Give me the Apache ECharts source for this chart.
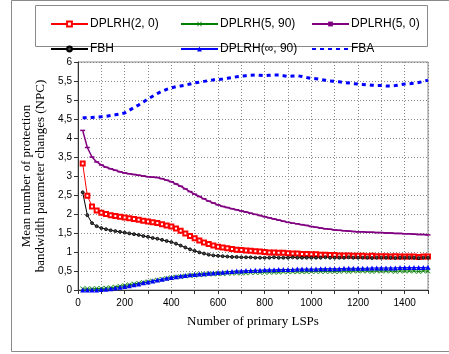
<!DOCTYPE html>
<html>
<head>
<meta charset="utf-8">
<script src="https://cdn.jsdelivr.net/npm/echarts@6/dist/echarts.min.js"></script>
<style>html,body{margin:0;padding:0;background:#fff}#c{width:449px;height:354px}</style>
</head>
<body>
<div id="c"></div>
<script>
const xValues = [20,40,60,80,100,120,140,160,180,200,220,240,260,280,300,320,340,360,380,400,420,440,460,480,500,520,540,560,580,600,620,640,660,680,700,720,740,760,780,800,820,840,860,880,900,920,940,960,980,1000,1020,1040,1060,1080,1100,1120,1140,1160,1180,1200,1220,1240,1260,1280,1300,1320,1340,1360,1380,1400,1420,1440,1460,1480,1500];

const seriesNames = ['DPLRH(2, 0)','DPLRH(5, 90)','DPLRH(5, 0)','FBH','DPLRH(\u221e, 90)','FBA'];

const dplrh2_0 = [3.33,2.48,2.20,2.09,2.03,2.00,1.97,1.95,1.93,1.91,
 1.89,1.87,1.85,1.82,1.80,1.78,1.76,1.73,1.70,1.67,
 1.62,1.56,1.49,1.42,1.36,1.30,1.25,1.21,1.17,1.14,
 1.12,1.10,1.08,1.06,1.05,1.04,1.03,1.02,1.01,1.00,
 0.99,0.99,0.98,0.98,0.97,0.96,0.96,0.95,0.95,0.94,
 0.94,0.93,0.93,0.92,0.92,0.91,0.91,0.91,0.90,0.90,
 0.90,0.89,0.90,0.89,0.89,0.89,0.88,0.89,0.88,0.88,
 0.88,0.88,0.87,0.88,0.88];

const dplrh5_90 = [0.03,0.03,0.03,0.04,0.04,0.05,0.06,0.08,0.10,0.12,
 0.14,0.16,0.18,0.20,0.22,0.24,0.26,0.28,0.30,0.32,
 0.34,0.35,0.37,0.38,0.39,0.40,0.41,0.42,0.42,0.43,
 0.43,0.44,0.44,0.45,0.45,0.45,0.46,0.46,0.46,0.47,
 0.47,0.47,0.47,0.48,0.48,0.48,0.48,0.48,0.48,0.49,
 0.49,0.49,0.49,0.49,0.49,0.49,0.50,0.49,0.50,0.50,
 0.50,0.50,0.49,0.50,0.50,0.50,0.50,0.49,0.50,0.50,
 0.50,0.50,0.49,0.50,0.50];

const dplrh5_0 = [4.20,3.75,3.50,3.37,3.29,3.23,3.19,3.15,3.11,3.08,
 3.06,3.04,3.02,3.00,2.98,2.97,2.96,2.93,2.89,2.85,
 2.79,2.73,2.66,2.59,2.52,2.46,2.40,2.34,2.29,2.24,
 2.20,2.17,2.14,2.11,2.08,2.05,2.02,1.99,1.96,1.93,
 1.90,1.87,1.84,1.81,1.78,1.76,1.74,1.72,1.70,1.67,
 1.65,1.63,1.61,1.60,1.58,1.57,1.56,1.55,1.54,1.53,
 1.53,1.52,1.52,1.51,1.51,1.50,1.50,1.49,1.49,1.48,
 1.48,1.47,1.46,1.46,1.45];

const fbh = [2.57,1.97,1.76,1.68,1.63,1.60,1.57,1.55,1.53,1.51,
 1.49,1.47,1.45,1.42,1.40,1.37,1.35,1.32,1.29,1.26,
 1.22,1.17,1.12,1.07,1.03,0.99,0.96,0.93,0.91,0.90,
 0.89,0.88,0.87,0.87,0.86,0.86,0.86,0.85,0.85,0.85,
 0.85,0.86,0.85,0.85,0.85,0.86,0.85,0.85,0.85,0.85,
 0.85,0.85,0.86,0.85,0.85,0.85,0.85,0.86,0.85,0.85,
 0.85,0.85,0.84,0.85,0.85,0.85,0.85,0.84,0.85,0.85,
 0.85,0.85,0.84,0.85,0.85];

const dplrhInf_90 = [0.00,0.00,0.00,0.00,0.01,0.02,0.03,0.05,0.07,0.09,
 0.11,0.14,0.16,0.19,0.21,0.24,0.26,0.28,0.31,0.33,
 0.35,0.37,0.38,0.40,0.41,0.42,0.43,0.44,0.45,0.46,
 0.47,0.48,0.49,0.50,0.50,0.51,0.51,0.52,0.52,0.53,
 0.53,0.53,0.54,0.54,0.54,0.54,0.55,0.55,0.55,0.55,
 0.55,0.56,0.56,0.56,0.56,0.56,0.57,0.57,0.57,0.57,
 0.57,0.57,0.58,0.58,0.58,0.58,0.58,0.58,0.59,0.59,
 0.59,0.59,0.59,0.59,0.60];

const fba = [4.53,4.53,4.54,4.55,4.56,4.57,4.59,4.61,4.63,4.66,
 4.73,4.80,4.87,4.95,5.03,5.10,5.17,5.23,5.28,5.32,
 5.35,5.37,5.39,5.42,5.45,5.47,5.49,5.51,5.53,5.54,
 5.55,5.57,5.59,5.61,5.63,5.64,5.65,5.66,5.65,5.64,
 5.65,5.66,5.66,5.64,5.62,5.63,5.64,5.62,5.59,5.57,
 5.56,5.54,5.52,5.50,5.49,5.48,5.46,5.45,5.43,5.42,
 5.41,5.40,5.39,5.38,5.38,5.37,5.37,5.38,5.40,5.42,
 5.43,5.44,5.46,5.49,5.52];

const xTickLabels = ['0','200','400','600','800','1000','1200','1400'];
const yTickLabels = ['0','0,5','1','1,5','2','2,5','3','3,5','4','4,5','5','5,5','6'];

function pairs(ys){ return xValues.map((x,i)=>[x, ys[i]]); }

const xStar = 'path://M1,0L5,4L9,0L10,1L6,5L10,9L9,10L5,6L1,10L0,9L4,5L0,1Z';

const chart = echarts.init(document.getElementById('c'), null, {renderer:'canvas'});
const labelFont = {fontFamily:'Liberation Sans, Arial, sans-serif', fontSize:10, color:'#000'};
const legendBase = {orient:'vertical', top:13, itemWidth:37, itemHeight:6, itemGap:13,
  textStyle:{fontFamily:'Liberation Sans, Arial, sans-serif', fontSize:12, color:'#000', padding:[0,0,0,-3]}};

chart.setOption({
  animation:false,
  backgroundColor:'#fff',
  graphic:[
    {type:'rect', shape:{x:11.5,y:0.5,width:460,height:351}, style:{fill:'none',stroke:'#8a8a8a',lineWidth:1}, silent:true, z:-1},
    {type:'rect', shape:{x:35.5,y:5.5,width:392,height:41}, style:{fill:'none',stroke:'#8a8a8a',lineWidth:1}, silent:true}
  ],
  legend:[
    Object.assign({left:45, data:[seriesNames[0], seriesNames[3]]}, legendBase),
    Object.assign({left:175, data:[seriesNames[1], seriesNames[4]]}, legendBase),
    Object.assign({left:306, data:[seriesNames[2], {name:seriesNames[5], itemStyle:{opacity:0}}]}, legendBase)
  ],
  grid:{left:78, top:62, right:21, bottom:64, show:true, borderColor:'#8a8a8a', borderWidth:1, backgroundColor:'transparent'},
  xAxis:{
    type:'value', min:0, max:1500, interval:100,
    name:'Number of primary LSPs', nameLocation:'middle', nameGap:25,
    nameTextStyle:{fontFamily:'Liberation Serif, Times New Roman, serif', fontSize:13, color:'#000'},
    axisLine:{show:true, lineStyle:{color:'#333', width:1}},
    axisTick:{show:true, length:4, inside:false, lineStyle:{color:'#333'}},
    axisLabel:Object.assign({margin:8, formatter:function(v){ const s=String(v); return xTickLabels.indexOf(s)>=0 ? s : ''; }}, labelFont),
    splitLine:{show:true, lineStyle:{color:'#888', type:[1,2], width:1}}
  },
  yAxis:{
    type:'value', min:0, max:6, interval:0.5,
    name:'Mean number of protection\nbandwidth parameter changes (NPC)', nameLocation:'middle', nameGap:25,
    nameTextStyle:{fontFamily:'Liberation Serif, Times New Roman, serif', fontSize:13, color:'#000', lineHeight:14},
    axisLine:{show:true, lineStyle:{color:'#333', width:1}},
    axisTick:{show:true, length:4, inside:false, lineStyle:{color:'#333'}},
    axisLabel:Object.assign({margin:6, formatter:function(v){ return yTickLabels[Math.round(v*2)]; }}, labelFont),
    splitLine:{show:true, lineStyle:{color:'#888', type:[1,2], width:1}}
  },
  series:[
    {name:seriesNames[0], type:'line', data:pairs(dplrh2_0), symbol:'emptyRect', symbolSize:4, showAllSymbol:true,
      lineStyle:{color:'#ff0000', width:1}, itemStyle:{color:'#ff0000', borderWidth:1}},
    {name:seriesNames[1], type:'line', data:pairs(dplrh5_90), symbol:xStar, symbolSize:5, showAllSymbol:true,
      lineStyle:{color:'#008000', width:1}, itemStyle:{color:'#008000'}},
    {name:seriesNames[2], type:'line', data:pairs(dplrh5_0), symbol:'rect', symbolSize:[5,1.5], showAllSymbol:true,
      lineStyle:{color:'#800080', width:1.5}, itemStyle:{color:'#800080'}},
    {name:seriesNames[3], type:'line', data:pairs(fbh), symbol:'circle', symbolSize:3, showAllSymbol:true,
      lineStyle:{color:'#000', width:1}, itemStyle:{color:'#444', borderColor:'#000', borderWidth:0.8}},
    {name:seriesNames[4], type:'line', data:pairs(dplrhInf_90), symbol:'triangle', symbolSize:5, showAllSymbol:true,
      lineStyle:{color:'#0000ff', width:1}, itemStyle:{color:'#0000ff'}},
    {name:seriesNames[5], type:'line', data:pairs(fba), symbol:'none',
      lineStyle:{color:'#0000ff', width:3, type:[4,4]}, itemStyle:{color:'#0000ff'}}
  ]
});
</script>
</body>
</html>
